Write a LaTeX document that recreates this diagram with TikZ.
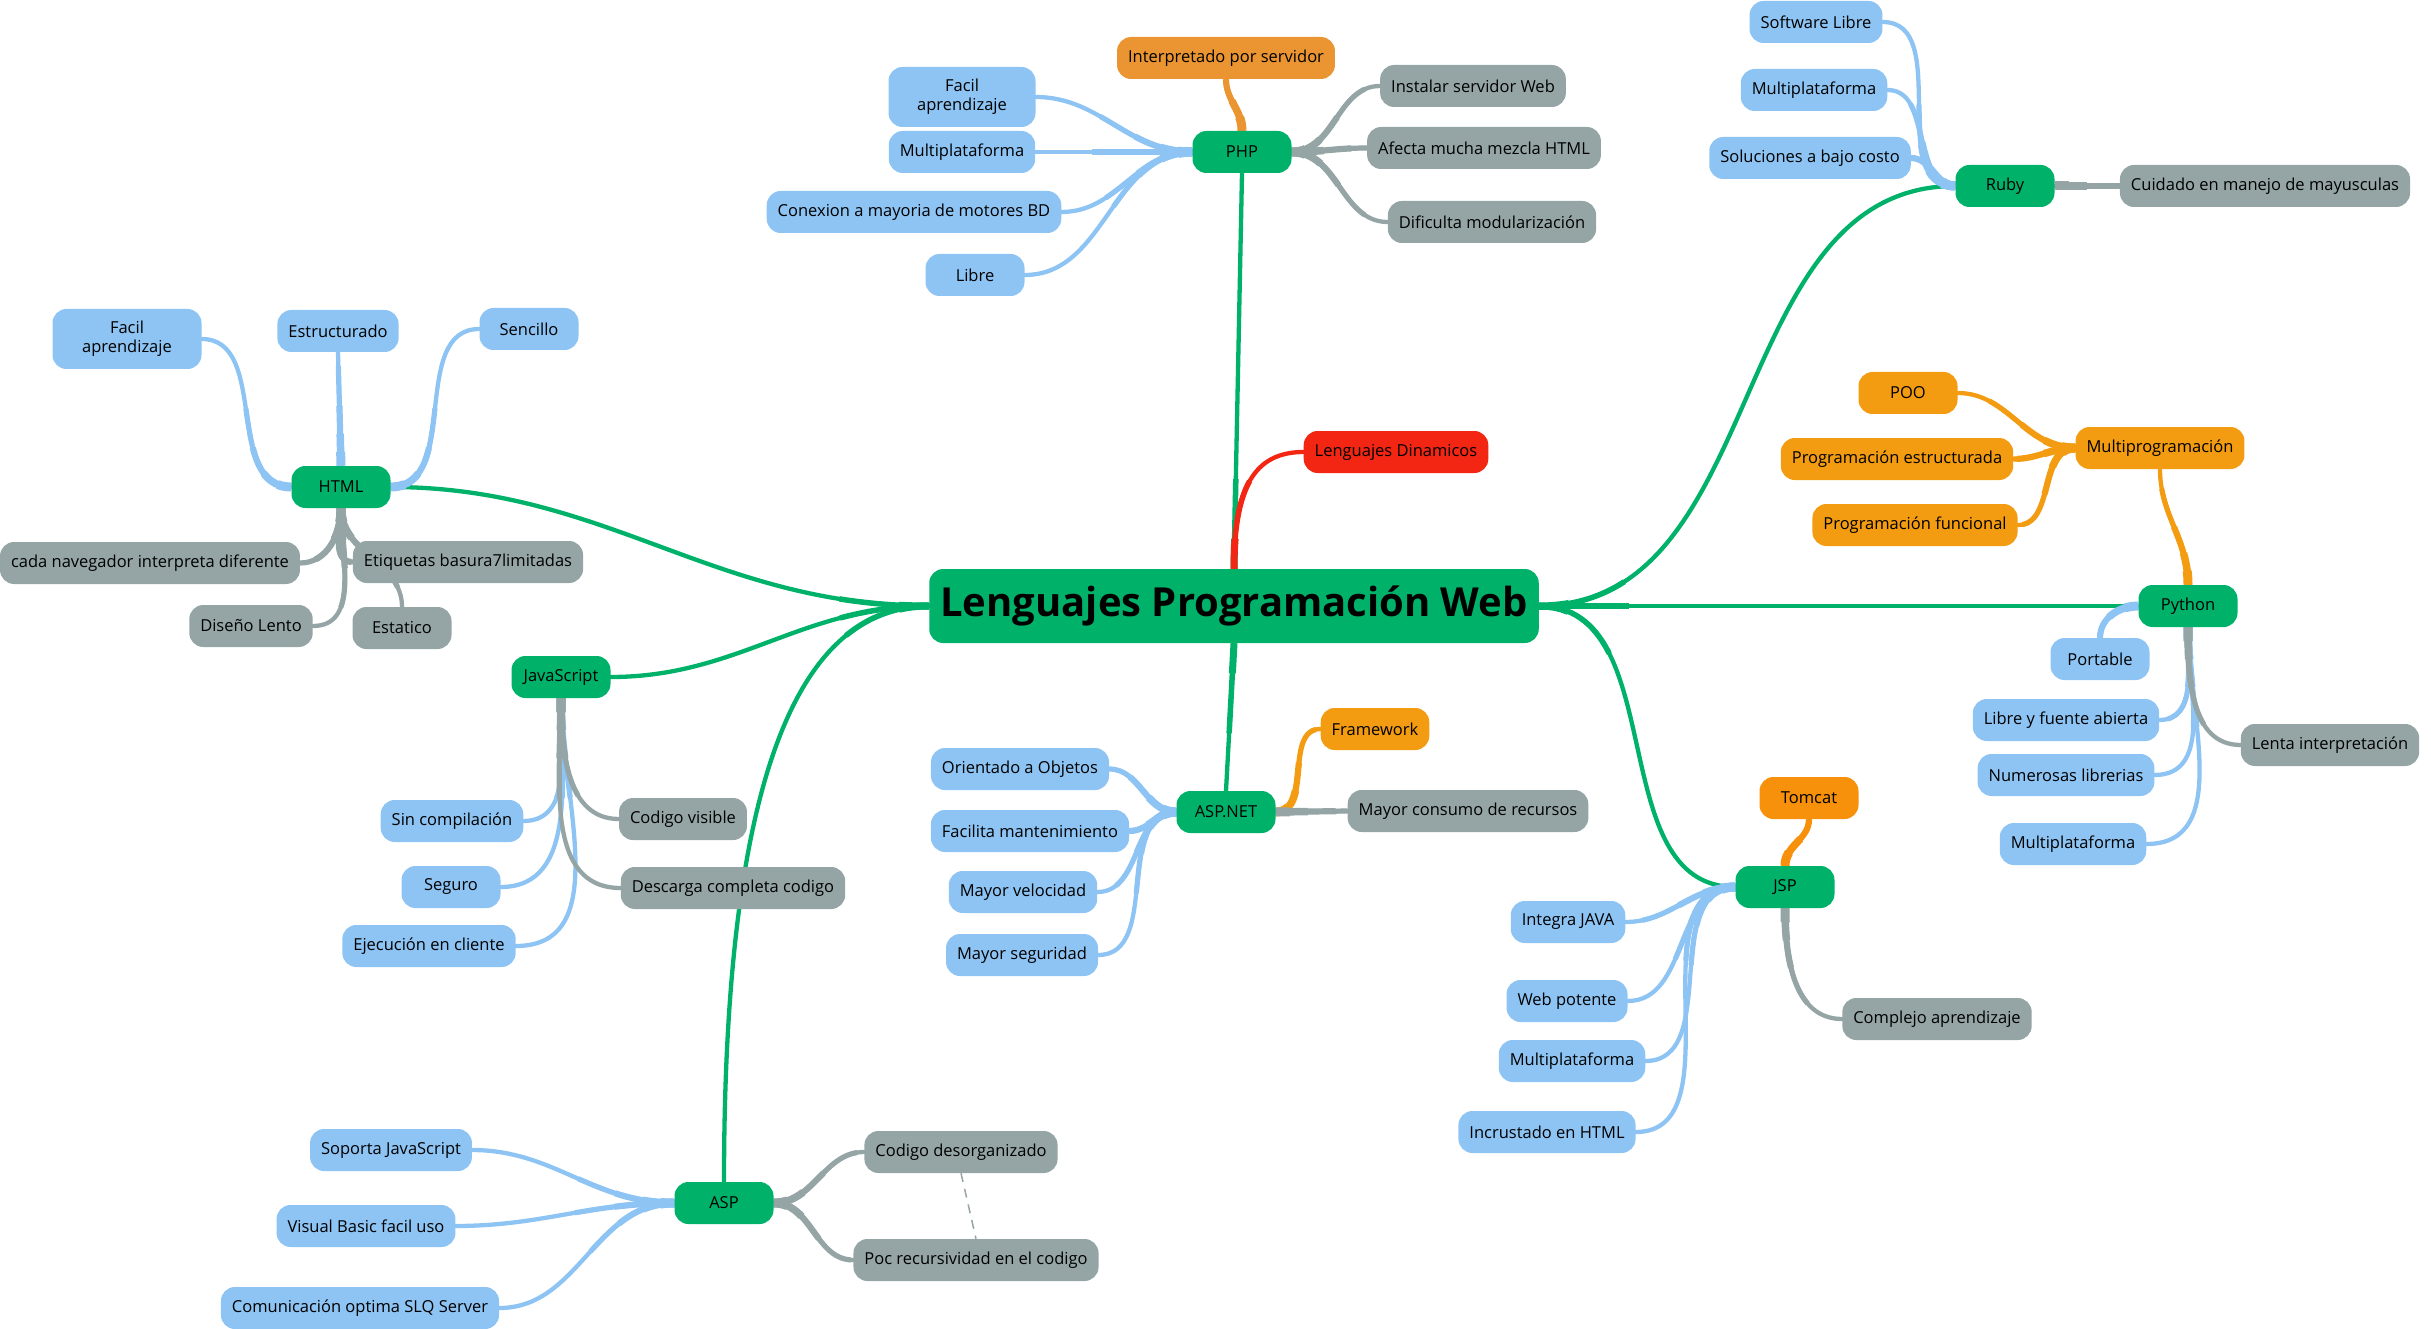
\documentclass[tikz,border=0pt]{standalone}
\usepackage{fontspec}
\setmainfont{Open Sans}
\usetikzlibrary{backgrounds}
\definecolor{mgreen}{HTML}{00B16A}
\definecolor{lblue}{HTML}{8DC4F3}
\definecolor{mgrey}{HTML}{95A5A6}
\definecolor{morange}{HTML}{F39C12}
\definecolor{morange2}{HTML}{EB9532}
\definecolor{mtomcat}{HTML}{F7900A}
\definecolor{mred}{HTML}{F22613}
\begin{document}
\begin{tikzpicture}[x=1pt,y=1pt,
  every node/.style={font=\fontsize{16.5}{19}\selectfont, text=black},
  bx/.style={rounded corners=14pt, minimum height=42pt, minimum width=99pt, inner xsep=11pt, inner ysep=4pt, align=center},
  tp/.style={bx, fill=mgreen},
  bl/.style={bx, fill=lblue},
  gr/.style={bx, fill=mgrey},
  og/.style={bx, fill=morange},
  tap/.style={
    preaction={draw=#1, line width=9pt, line cap=butt, dash pattern=on 14pt off 6000pt},
    preaction={draw=#1, line width=7.5pt, line cap=butt, dash pattern=on 32pt off 6000pt},
    preaction={draw=#1, line width=6.2pt, line cap=butt, dash pattern=on 60pt off 6000pt},
    preaction={draw=#1, line width=5.2pt, line cap=butt, dash pattern=on 100pt off 6000pt},
    draw=#1, line width=4.3pt, line cap=round},
  mtap/.style={
    preaction={draw=#1, line width=7pt, line cap=butt, dash pattern=on 30pt off 6000pt},
    preaction={draw=#1, line width=5.5pt, line cap=butt, dash pattern=on 90pt off 6000pt},
    draw=#1, line width=4.3pt, line cap=round},
  mcon/.style={mtap=mgreen},
  bcon/.style={tap=lblue},
  gcon/.style={tap=mgrey},
  ocon/.style={tap=morange}
]
\useasboundingbox (0,0) rectangle (2431,-1329);
% central
\node[bx, fill=mgreen, minimum width=607pt, minimum height=74pt, font=\fontsize{40}{46}\selectfont\bfseries] (central) at (1234,-606) {Lenguajes Programación Web};
\node[bx, fill=mred] (dinam) at (1396,-452) {Lenguajes Dinamicos};
% PHP
\node[tp] (php) at (1242,-152) {PHP};
\node[bx, fill=morange2] (interp) at (1226,-58) {Interpretado por servidor};
\node[bl, minimum height=60pt, minimum width=147pt] (phpfacil) at (962,-97) {Facil\\aprendizaje};
\node[bl] (phpmulti) at (962,-152) {Multiplataforma};
\node[bl] (phpcon) at (914,-212) {Conexion a mayoria de motores BD};
\node[bl] (phplibre) at (975,-275) {Libre};
\node[gr] (phpinst) at (1473,-86) {Instalar servidor Web};
\node[gr] (phpafecta) at (1484,-148) {Afecta mucha mezcla HTML};
\node[gr] (phpdific) at (1492,-222) {Dificulta modularización};
% Ruby
\node[tp] (ruby) at (2005,-186) {Ruby};
\node[bl] (rbsoft) at (1816,-22) {Software Libre};
\node[bl] (rbmulti) at (1814,-90) {Multiplataforma};
\node[bl] (rbsol) at (1810,-158) {Soluciones a bajo costo};
\node[gr] (rbcuid) at (2265,-186) {Cuidado en manejo de mayusculas};
% Python
\node[tp] (python) at (2188,-606) {Python};
\node[og] (multiprog) at (2160,-448) {Multiprogramación};
\node[og] (poo) at (1908,-393) {POO};
\node[og] (pestr) at (1897,-459) {Programación estructurada};
\node[og] (pfunc) at (1915,-525) {Programación funcional};
\node[bl] (portable) at (2100,-659) {Portable};
\node[bl] (plibre) at (2066,-720) {Libre y fuente abierta};
\node[bl] (pnum) at (2066,-775) {Numerosas librerias};
\node[bl] (pmulti) at (2073,-844) {Multiplataforma};
\node[gr] (plenta) at (2330,-745) {Lenta interpretación};
% JSP
\node[tp] (jsp) at (1785,-887) {JSP};
\node[bx, fill=mtomcat] (tomcat) at (1809,-798) {Tomcat};
\node[bl] (jintegra) at (1568,-922) {Integra JAVA};
\node[bl] (jweb) at (1567,-1001) {Web potente};
\node[bl] (jmulti) at (1572,-1061) {Multiplataforma};
\node[bl] (jincr) at (1547,-1132) {Incrustado en HTML};
\node[gr] (jcomplejo) at (1937,-1019) {Complejo aprendizaje};
% ASP.NET
\node[tp] (aspnet) at (1226,-812) {ASP.NET};
\node[og] (framework) at (1375,-729) {Framework};
\node[gr] (nconsumo) at (1468,-811) {Mayor consumo de recursos};
\node[bl] (norient) at (1020,-769) {Orientado a Objetos};
\node[bl] (nfacilita) at (1030,-831) {Facilita mantenimiento};
\node[bl] (nveloc) at (1023,-892) {Mayor velocidad};
\node[bl] (nsegur) at (1022,-955) {Mayor seguridad};
% ASP
\node[tp] (asp) at (724,-1203) {ASP};
\node[bl] (asoporta) at (391,-1150) {Soporta JavaScript};
\node[bl] (avisual) at (366,-1226) {Visual Basic facil uso};
\node[bl] (acomun) at (360,-1308) {Comunicación optima SLQ Server};
\node[gr] (adesorg) at (961,-1152) {Codigo desorganizado};
\node[gr] (apoc) at (976,-1260) {Poc recursividad en el codigo};
% HTML
\node[tp] (html) at (341,-487) {HTML};
\node[bl, minimum height=60pt, minimum width=149pt] (hfacil) at (127,-339) {Facil\\aprendizaje};
\node[bl] (hestr) at (338,-331) {Estructurado};
\node[bl] (hsenc) at (529,-329) {Sencillo};
\node[gr] (hcada) at (150,-563) {cada navegador interpreta diferente};
\node[gr] (hetiq) at (468,-562) {Etiquetas basura7limitadas};
\node[gr] (hdiseno) at (251,-626) {Diseño Lento};
\node[gr] (hestat) at (402,-628) {Estatico};
% JavaScript
\node[tp] (js) at (561,-677) {JavaScript};
\node[bl] (jssin) at (452,-821) {Sin compilación};
\node[bl] (jsseg) at (451,-887) {Seguro};
\node[bl] (jseje) at (429,-946) {Ejecución en cliente};
\node[gr] (jscod) at (683,-819) {Codigo visible};
\node[gr] (jsdesc) at (733,-888) {Descarga completa codigo};

\begin{scope}[on background layer]
% main branches
\draw[mcon] (central.north) -- (php.south);
\draw[mtap=mred] (central.north) .. controls +(0,80) and +(-50,0) .. (dinam.west);
\draw[mcon] (central.east) to[out=0,in=180] (ruby.west);
\draw[mcon] (central.east) -- (python.west);
\draw[mcon] (central.east) to[out=0,in=180] (jsp.west);
\draw[mcon] (central.south) -- (aspnet.north);
\draw[mcon] (central.west) to[out=180,in=0] (html.east);
\draw[mcon] (central.west) to[out=180,in=0] (js.east);
\draw[mcon] (central.west) .. controls +(-150,0) and +(0,350) .. (asp.north);
% PHP
\draw[tap=morange2] (php.north) to[out=90,in=-90] (interp.south);
\foreach \c in {phpfacil,phpmulti,phpcon,phplibre}
  \draw[bcon] (php.west) to[out=180,in=0] (\c.east);
\foreach \c in {phpinst,phpafecta,phpdific}
  \draw[gcon] (php.east) to[out=0,in=180] (\c.west);
% Ruby
\foreach \c in {rbsoft,rbmulti,rbsol}
  \draw[bcon] (ruby.west) to[out=180,in=0] (\c.east);
\draw[gcon] (ruby.east) -- (rbcuid.west);
% Python
\draw[ocon] (python.north) to[out=90,in=-90] (multiprog.south);
\foreach \c in {poo,pestr,pfunc}
  \draw[ocon] (multiprog.west) to[out=180,in=0] (\c.east);
\draw[bcon] (python.west) to[out=180,in=90] (portable.north);
\foreach \c in {plibre,pnum,pmulti}
  \draw[bcon] (python.south) to[out=-90,in=0] (\c.east);
\draw[gcon] (python.south) to[out=-90,in=180] (plenta.west);
% JSP
\draw[tap=mtomcat] (jsp.north) to[out=90,in=-90] (tomcat.south);
\foreach \c in {jintegra,jweb,jmulti,jincr}
  \draw[bcon] (jsp.west) to[out=180,in=0] (\c.east);
\draw[gcon] (jsp.south) to[out=-90,in=180] (jcomplejo.west);
% ASP.NET
\draw[ocon] (aspnet.east) to[out=0,in=180] (framework.west);
\draw[gcon] (aspnet.east) -- (nconsumo.west);
\foreach \c in {norient,nfacilita,nveloc,nsegur}
  \draw[bcon] (aspnet.west) to[out=180,in=0] (\c.east);
% ASP
\foreach \c in {asoporta,avisual,acomun}
  \draw[bcon] (asp.west) to[out=180,in=0] (\c.east);
\foreach \c in {adesorg,apoc}
  \draw[gcon] (asp.east) to[out=0,in=180] (\c.west);
\draw[mgrey, line width=1.5pt, dash pattern=on 9pt off 7pt] (adesorg.south) -- (apoc.north);
% HTML
\draw[bcon] (html.west) to[out=180,in=0] (hfacil.east);
\draw[bcon] (html.north) -- (hestr.south);
\draw[bcon] (html.east) to[out=0,in=180] (hsenc.west);
\foreach \c in {hcada,hdiseno}
  \draw[gcon] (html.south) to[out=-90,in=0] (\c.east);
\draw[gcon] (html.south) to[out=-90,in=180] (hetiq.west);
\draw[gcon] (html.south) to[out=-90,in=90] (hestat.north);
% JavaScript
\foreach \c in {jssin,jsseg,jseje}
  \draw[bcon] (js.south) to[out=-90,in=0] (\c.east);
\foreach \c in {jscod,jsdesc}
  \draw[gcon] (js.south) to[out=-90,in=180] (\c.west);
\end{scope}
\end{tikzpicture}
\end{document}
